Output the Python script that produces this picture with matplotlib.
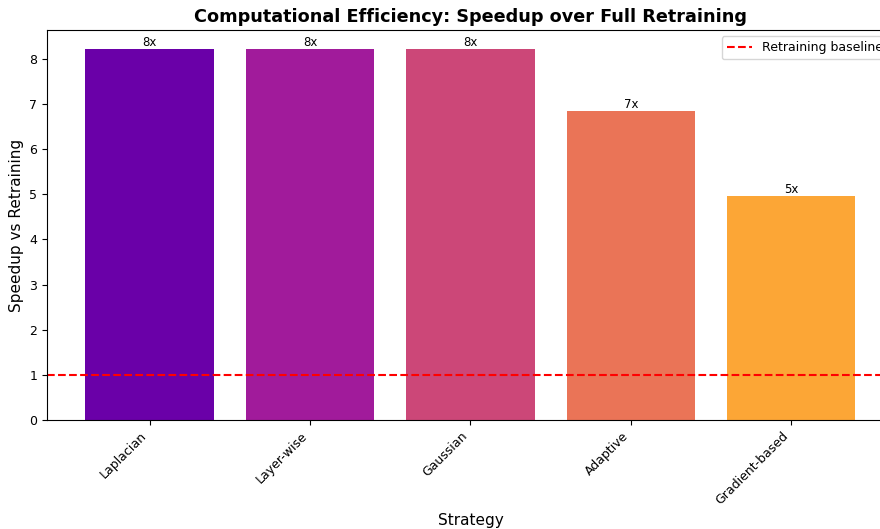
import matplotlib
matplotlib.use('Agg')
import matplotlib.pyplot as plt
import numpy as np

strategies = ['Laplacian', 'Layer-wise', 'Gaussian', 'Adaptive', 'Gradient-based']
speedups = [8.22, 8.22, 8.22, 6.85, 4.97]
baseline = 1.0

fig = plt.figure(figsize=(8.8, 5.29), dpi=100)
# axes runs slightly past the right edge of the canvas
ax = fig.add_axes([0.0534, 0.206, 0.9625, 0.737])

colors = plt.cm.plasma(np.linspace(0.2, 0.8, len(strategies)))
x = np.arange(len(strategies))
bars = ax.bar(x, speedups, color=colors, width=0.8)

for bar, val in zip(bars, speedups):
    ax.text(bar.get_x() + bar.get_width() / 2, bar.get_height(), f'{val:.0f}x',
            ha='center', va='bottom', fontsize=8.5)

ax.axhline(baseline, color='red', linestyle='--', linewidth=1.5, label='Retraining baseline')

ax.set_xticks(x)
ax.set_xticklabels(strategies, rotation=45, ha='right', fontsize=9)
ax.tick_params(axis='y', labelsize=9)
ax.set_xlabel('Strategy', fontsize=11)
ax.set_ylabel('Speedup vs Retraining', fontsize=11)
ax.set_title('Computational Efficiency: Speedup over Full Retraining',
             fontsize=12.7, fontweight='bold')
ax.legend(loc='upper right', fontsize=9)

plt.savefig('out.png', dpi=100)
